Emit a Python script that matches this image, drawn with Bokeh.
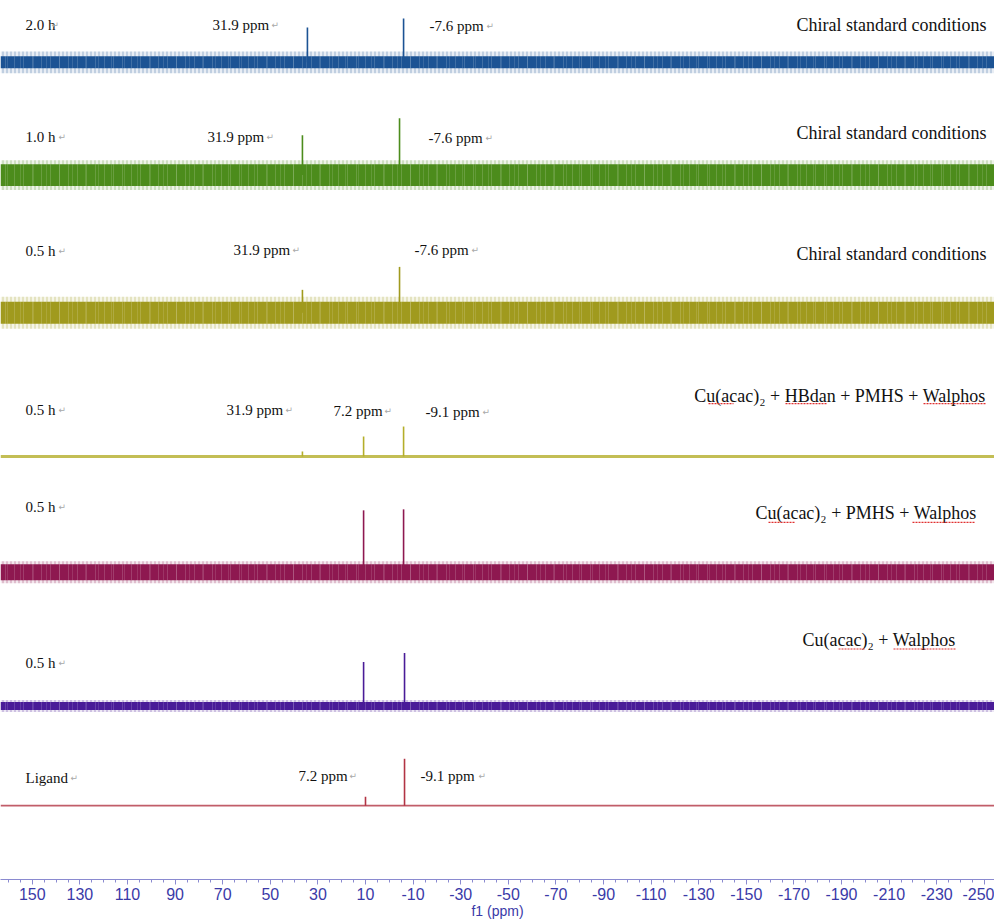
from bokeh.plotting import figure
from bokeh.models import Range1d, FixedTicker
from bokeh.core.properties import value
from bokeh.embed import file_html
from bokeh.resources import INLINE

# ---------------- data ----------------
times = ["2.0 h", "1.0 h", "0.5 h", "0.5 h", "0.5 h", "0.5 h", "Ligand"]
conditions = ["Chiral standard conditions", "Chiral standard conditions",
              "Chiral standard conditions",
              "Cu(acac)\u2082 + HBdan + PMHS + Walphos",
              "Cu(acac)\u2082 + PMHS + Walphos",
              "Cu(acac)\u2082 + Walphos", ""]
# peak positions on the ppm axis and peak heights (intensity units) per trace
peaks_ppm_1 = [34.4, -6.0]
peaks_h_1 = [35, 44]
peaks_ppm_2 = [36.5, -4.3]
peaks_h_2 = [40, 57]
peaks_ppm_3 = [36.5, -4.3]
peaks_h_3 = [23, 46]
peaks_ppm_4 = [36.5, 10.8, -6.0]
peaks_h_4 = [5, 20, 30]
peaks_ppm_5 = [10.8, -6.0]
peaks_h_5 = [62, 63]
peaks_ppm_6 = [10.8, -6.4]
peaks_h_6 = [44, 53]
peaks_ppm_7 = [10.0, -6.4]
peaks_h_7 = [9, 47]
# noise level of each trace: dense core and spike envelope (half widths)
noise_core = [6, 11, 11, 0.8, 8, 4, 0.5]
noise_spike = [11, 15, 16, 1.5, 11, 6, 0.8]
# peak annotation texts
peak_labels_1 = ["31.9 ppm", "-7.6 ppm"]
peak_labels_2 = ["31.9 ppm", "-7.6 ppm"]
peak_labels_3 = ["31.9 ppm", "-7.6 ppm"]
peak_labels_4 = ["31.9 ppm", "7.2 ppm", "-9.1 ppm"]
peak_labels_7 = ["7.2 ppm", "-9.1 ppm"]
tick_values = list(range(150, -251, -20))
minor_tick_values = list(range(-250, 161, 5))

# ---------------- styling / layout ----------------
colors = ["#1c5394", "#4c8c1c", "#a09a1e", "#b4ae2a", "#8e1850", "#4a1c98", "#b23444"]
baseline_px = [62, 175, 313, 457, 573, 707, 807]   # vertical position of each trace
AXIS_PX = 881


def X(px):          # page pixel -> ppm (for placing annotations)
    return 10 + (365 - px) / 2.38


def Y(py):          # page pixel -> vertical data unit
    return AXIS_PX - py


X_LEFT, X_RIGHT = X(0), X(994)

p = figure(width=994, height=921, output_backend="svg", toolbar_location=None,
           x_range=Range1d(X_LEFT, X_RIGHT), y_range=Range1d(0, AXIS_PX),
           y_axis_location=None, min_border_left=0, min_border_right=0,
           min_border_top=0, min_border_bottom=0)
p.outline_line_color = None
p.xgrid.visible = False
p.ygrid.visible = False
p.background_fill_color = "white"

peaks_ppm = [peaks_ppm_1, peaks_ppm_2, peaks_ppm_3, peaks_ppm_4, peaks_ppm_5, peaks_ppm_6, peaks_ppm_7]
peaks_h = [peaks_h_1, peaks_h_2, peaks_h_3, peaks_h_4, peaks_h_5, peaks_h_6, peaks_h_7]

for i in range(7):
    base = Y(baseline_px[i])
    c = colors[i]
    if noise_spike[i] > 2:
        # spike envelope: thin vertical streaks
        p.varea(x=[X_LEFT, X_RIGHT], y1=[base - noise_spike[i]] * 2,
                y2=[base + noise_spike[i]] * 2, fill_color=c, fill_alpha=0.10,
                hatch_pattern="vertical_line", hatch_color=c,
                hatch_alpha=0.4, hatch_scale=4, hatch_weight=1)
        # dense core
        p.varea(x=[X_LEFT, X_RIGHT], y1=[base - noise_core[i]] * 2,
                y2=[base + noise_core[i]] * 2, fill_color=c, fill_alpha=1.0,
                hatch_pattern="vertical_line", hatch_color="white",
                hatch_alpha=0.16, hatch_scale=9, hatch_weight=1)
        p.varea(x=[X_LEFT, X_RIGHT], y1=[base - noise_core[i]] * 2,
                y2=[base + noise_core[i]] * 2, fill_alpha=0,
                hatch_pattern="vertical_line", hatch_color="white",
                hatch_alpha=0.12, hatch_scale=13, hatch_weight=1)
    else:
        p.varea(x=[X_LEFT, X_RIGHT], y1=[base - noise_spike[i]] * 2,
                y2=[base + noise_spike[i]] * 2, fill_color=c, fill_alpha=0.8)
    p.segment(x0=peaks_ppm[i], y0=[base] * len(peaks_ppm[i]),
              x1=peaks_ppm[i], y1=[base + h for h in peaks_h[i]],
              line_color=c, line_width=1.6)

# ---------------- texts ----------------
serif = value("Liberation Serif")
lab_x, lab_y, lab_t = [], [], []
ret_x, ret_y = [], []

time_pos = [(25, 25, 51), (25, 137, 58), (25, 251, 58), (25, 410, 58),
            (25, 508, 58), (25, 664, 58), (25, 779, 70)]
for t, (px, py, rx) in zip(times, time_pos):
    lab_x.append(X(px)); lab_y.append(Y(py)); lab_t.append(t)
    ret_x.append(X(rx)); ret_y.append(Y(py))

peak_text_pos = [
    (peak_labels_1, [(212, 25, 271), (429, 26, 486)]),
    (peak_labels_2, [(207, 137, 266), (428, 138, 485)]),
    (peak_labels_3, [(233, 250, 292), (414, 250, 471)]),
    (peak_labels_4, [(226, 410, 285), (333, 411, 384), (425, 412, 482)]),
    (peak_labels_7, [(298, 777, 349), (420, 777, 478)]),
]
for labels, pos in peak_text_pos:
    for t, (px, py, rx) in zip(labels, pos):
        lab_x.append(X(px)); lab_y.append(Y(py)); lab_t.append(t)
        ret_x.append(X(rx)); ret_y.append(Y(py))

p.text(x=lab_x, y=lab_y, text=lab_t, text_font=serif, text_font_size="15px",
       text_color="#111111", text_baseline="middle", text_align="left")
p.text(x=ret_x, y=ret_y, text=["\u21b5"] * len(ret_x), text_font=value("DejaVu Sans"),
       text_font_size="9px", text_color="#a8a8a8", text_baseline="middle", text_align="left")

cond_pos = [(986, 25), (986, 133), (986, 254), (985, 396), (976, 514), (955, 641)]
cx = [X(px) for px, py in cond_pos]
cy = [Y(py) for px, py in cond_pos]
p.text(x=cx, y=cy, text=conditions[:6], text_font=serif, text_font_size="18px",
       text_color="#111111", text_baseline="middle", text_align="right")

# spell-check squiggles under words
sq = [(708, 733, 404), (785, 827, 404), (923, 985, 404),
      (768, 794, 523), (912, 975, 523),
      (838, 864, 650), (893, 955, 650)]
p.segment(x0=[X(a) for a, b, y in sq], y0=[Y(y) for a, b, y in sq],
          x1=[X(b) for a, b, y in sq], y1=[Y(y) for a, b, y in sq],
          line_color="#e03030", line_width=1.2, line_dash="2 1")

# ---------------- axis ----------------
ax = p.xaxis[0]
ax.ticker = FixedTicker(ticks=tick_values, minor_ticks=minor_tick_values)
ax.major_label_overrides = {v: str(v) for v in tick_values}
ax.axis_label = "f1 (ppm)"
ax.axis_line_color = "#8a8ad0"
ax.major_tick_line_color = "#8a8ad0"
ax.minor_tick_line_color = "#8a8ad0"
ax.major_tick_in = 0
ax.major_tick_out = 5
ax.minor_tick_in = 0
ax.minor_tick_out = 3
ax.major_label_text_font = "Liberation Sans"
ax.major_label_text_font_size = "16px"
ax.major_label_text_color = "#3a3aa8"
ax.major_label_standoff = 3
ax.axis_label_text_font = "Liberation Sans"
ax.axis_label_text_font_size = "14px"
ax.axis_label_text_font_style = "normal"
ax.axis_label_text_color = "#3a3aa8"
ax.axis_label_standoff = 0

open("out.html", "w").write(file_html(p, INLINE))
